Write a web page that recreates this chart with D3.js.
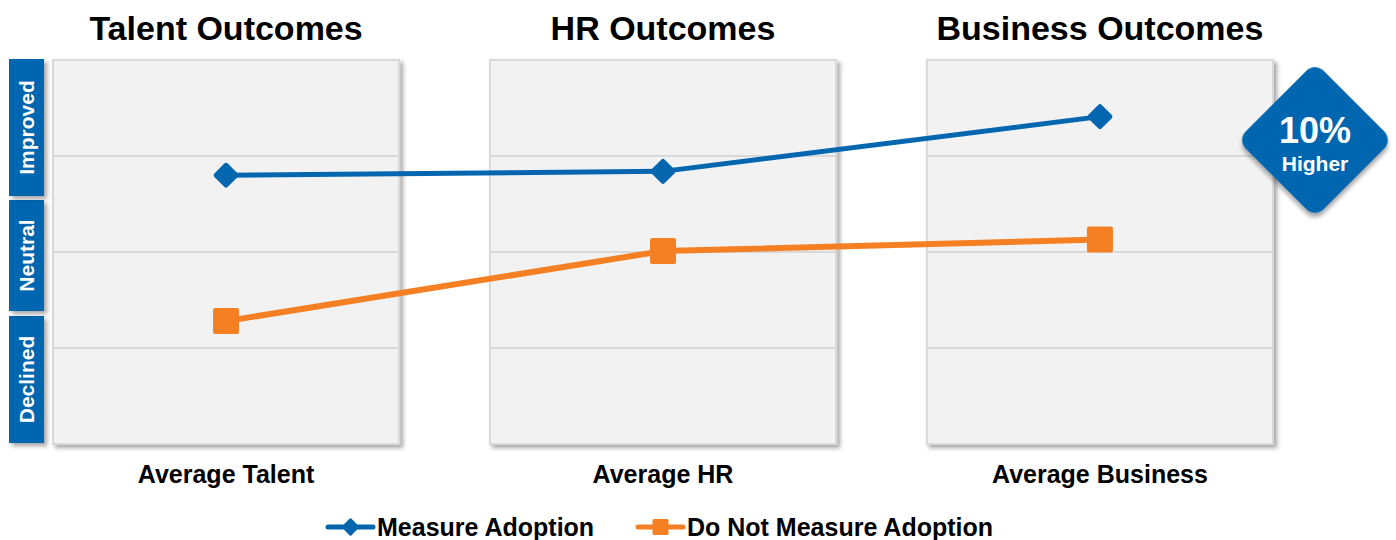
<!DOCTYPE html>
<html>
<head>
<meta charset="utf-8">
<script src="https://cdn.jsdelivr.net/npm/d3@7"></script>
<style>
  body { margin: 0; background: #fff; }
  svg { font-family: "Liberation Sans", Arial, sans-serif; font-weight: bold; }
</style>
</head>
<body>
<script>
// data (0 = bottom of Declined, 4 = top of Improved)
const groups = ['Talent Outcomes', 'HR Outcomes', 'Business Outcomes'];
const categories = ['Average Talent', 'Average HR', 'Average Business'];
const measure = [2.80, 2.84, 3.41];
const notMeasure = [1.28, 2.01, 2.13];
const levels = ['Declined', 'Neutral', 'Improved'];
const seriesNames = ['Measure Adoption', 'Do Not Measure Adoption'];
const badgeValue = '10%';
const badgeText = 'Higher';

const blue = '#0566b0', orange = '#f58023';

const svg = d3.select('body').append('svg')
  .attr('width', 1396)
  .attr('height', 540);

const defs = svg.append('defs');
const f = defs.append('filter').attr('id', 'shadow')
  .attr('x', '-10%').attr('y', '-10%').attr('width', '130%').attr('height', '130%');
f.append('feDropShadow').attr('dx', 3).attr('dy', 3)
  .attr('stdDeviation', 2).attr('flood-color', '#000').attr('flood-opacity', 0.35);

// scales
const x = d3.scaleBand().domain(categories).range([53, 1273]).paddingInner(0.208).paddingOuter(0);
const y = d3.scaleLinear().domain([0, 4]).range([444, 60]);

// panels
const panels = svg.selectAll('g.panel')
  .data(categories)
  .enter().append('g')
  .attr('class', 'panel');

panels.append('rect')
  .attr('x', d => x(d))
  .attr('y', y(4))
  .attr('width', x.bandwidth())
  .attr('height', y(0) - y(4))
  .attr('fill', '#f2f2f2')
  .attr('stroke', '#d9d9d9')
  .attr('stroke-width', 2)
  .attr('filter', 'url(#shadow)');

panels.selectAll('line')
  .data(d => [1, 2, 3].map(v => ({ c: d, v })))
  .enter().append('line')
  .attr('x1', d => x(d.c) + 1)
  .attr('x2', d => x(d.c) + x.bandwidth() - 1)
  .attr('y1', d => y(d.v))
  .attr('y2', d => y(d.v))
  .attr('stroke', '#d9d9d9')
  .attr('stroke-width', 2);

// group titles
svg.selectAll('text.title')
  .data(groups)
  .enter().append('text')
  .attr('class', 'title')
  .attr('x', (d, i) => x(categories[i]) + x.bandwidth() / 2)
  .attr('y', 40)
  .attr('text-anchor', 'middle')
  .attr('font-size', 34)
  .text(d => d);

// category labels
svg.selectAll('text.cat')
  .data(categories)
  .enter().append('text')
  .attr('class', 'cat')
  .attr('x', d => x(d) + x.bandwidth() / 2)
  .attr('y', 483)
  .attr('text-anchor', 'middle')
  .attr('font-size', 25)
  .text(d => d);

// side level boxes
const levelBoxes = [[316, 443], [200, 311], [59, 196]];
const side = svg.selectAll('g.level')
  .data(levels)
  .enter().append('g')
  .attr('class', 'level');
side.append('rect')
  .attr('x', 9)
  .attr('y', (d, i) => levelBoxes[i][0])
  .attr('width', 35)
  .attr('height', (d, i) => levelBoxes[i][1] - levelBoxes[i][0])
  .attr('fill', blue)
  .attr('filter', 'url(#shadow)');
side.append('text')
  .attr('transform', (d, i) => `translate(34,${(levelBoxes[i][0] + levelBoxes[i][1]) / 2}) rotate(-90)`)
  .attr('text-anchor', 'middle')
  .attr('font-size', 21)
  .attr('fill', '#fff')
  .text(d => d);

// lines
const line = d3.line()
  .x((d, i) => x(categories[i]) + x.bandwidth() / 2)
  .y(d => y(d));

svg.append('path').datum(notMeasure)
  .attr('d', line).attr('fill', 'none')
  .attr('stroke', orange).attr('stroke-width', 6);
svg.append('path').datum(measure)
  .attr('d', line).attr('fill', 'none')
  .attr('stroke', blue).attr('stroke-width', 5);

// markers
svg.selectAll('rect.sq')
  .data(notMeasure)
  .enter().append('rect')
  .attr('class', 'sq')
  .attr('x', (d, i) => x(categories[i]) + x.bandwidth() / 2 - 13)
  .attr('y', d => y(d) - 13)
  .attr('width', 26).attr('height', 26).attr('rx', 2)
  .attr('fill', orange);

svg.selectAll('rect.dia')
  .data(measure)
  .enter().append('rect')
  .attr('class', 'dia')
  .attr('x', -9.5).attr('y', -9.5)
  .attr('width', 19).attr('height', 19).attr('rx', 2.5)
  .attr('transform', (d, i) => `translate(${x(categories[i]) + x.bandwidth() / 2},${y(d)}) rotate(45)`)
  .attr('fill', blue);

// badge
const badge = svg.append('g').attr('transform', 'translate(1315,140)');
badge.append('rect')
  .attr('x', -55).attr('y', -55).attr('width', 110).attr('height', 110).attr('rx', 12)
  .attr('transform', 'rotate(45)')
  .attr('fill', blue)
  .attr('filter', 'url(#shadow)');
badge.append('text')
  .attr('y', 3).attr('text-anchor', 'middle')
  .attr('font-size', 36).attr('fill', '#fff')
  .text(badgeValue);
badge.append('text')
  .attr('y', 31).attr('text-anchor', 'middle')
  .attr('font-size', 21).attr('fill', '#fff')
  .text(badgeText);

// legend
const legendX = [328, 638];
const legend = svg.selectAll('g.legend')
  .data(seriesNames)
  .enter().append('g')
  .attr('class', 'legend')
  .attr('transform', (d, i) => `translate(${legendX[i]},527)`);
legend.append('line')
  .attr('x1', 0).attr('x2', 45)
  .attr('stroke', (d, i) => i ? orange : blue)
  .attr('stroke-width', 5)
  .attr('stroke-linecap', 'round');
legend.append('rect')
  .attr('fill', (d, i) => i ? orange : blue)
  .attr('rx', 1.5)
  .attr('transform', (d, i) => i ? 'translate(22.5,0)' : 'translate(22.5,0) rotate(45)')
  .attr('width', (d, i) => i ? 16 : 13).attr('height', (d, i) => i ? 16 : 13)
  .attr('x', (d, i) => i ? -8 : -6.5).attr('y', (d, i) => i ? -8 : -6.5);
legend.append('text')
  .attr('x', 49).attr('y', 9)
  .attr('font-size', 25)
  .text(d => d);
</script>
</body>
</html>
